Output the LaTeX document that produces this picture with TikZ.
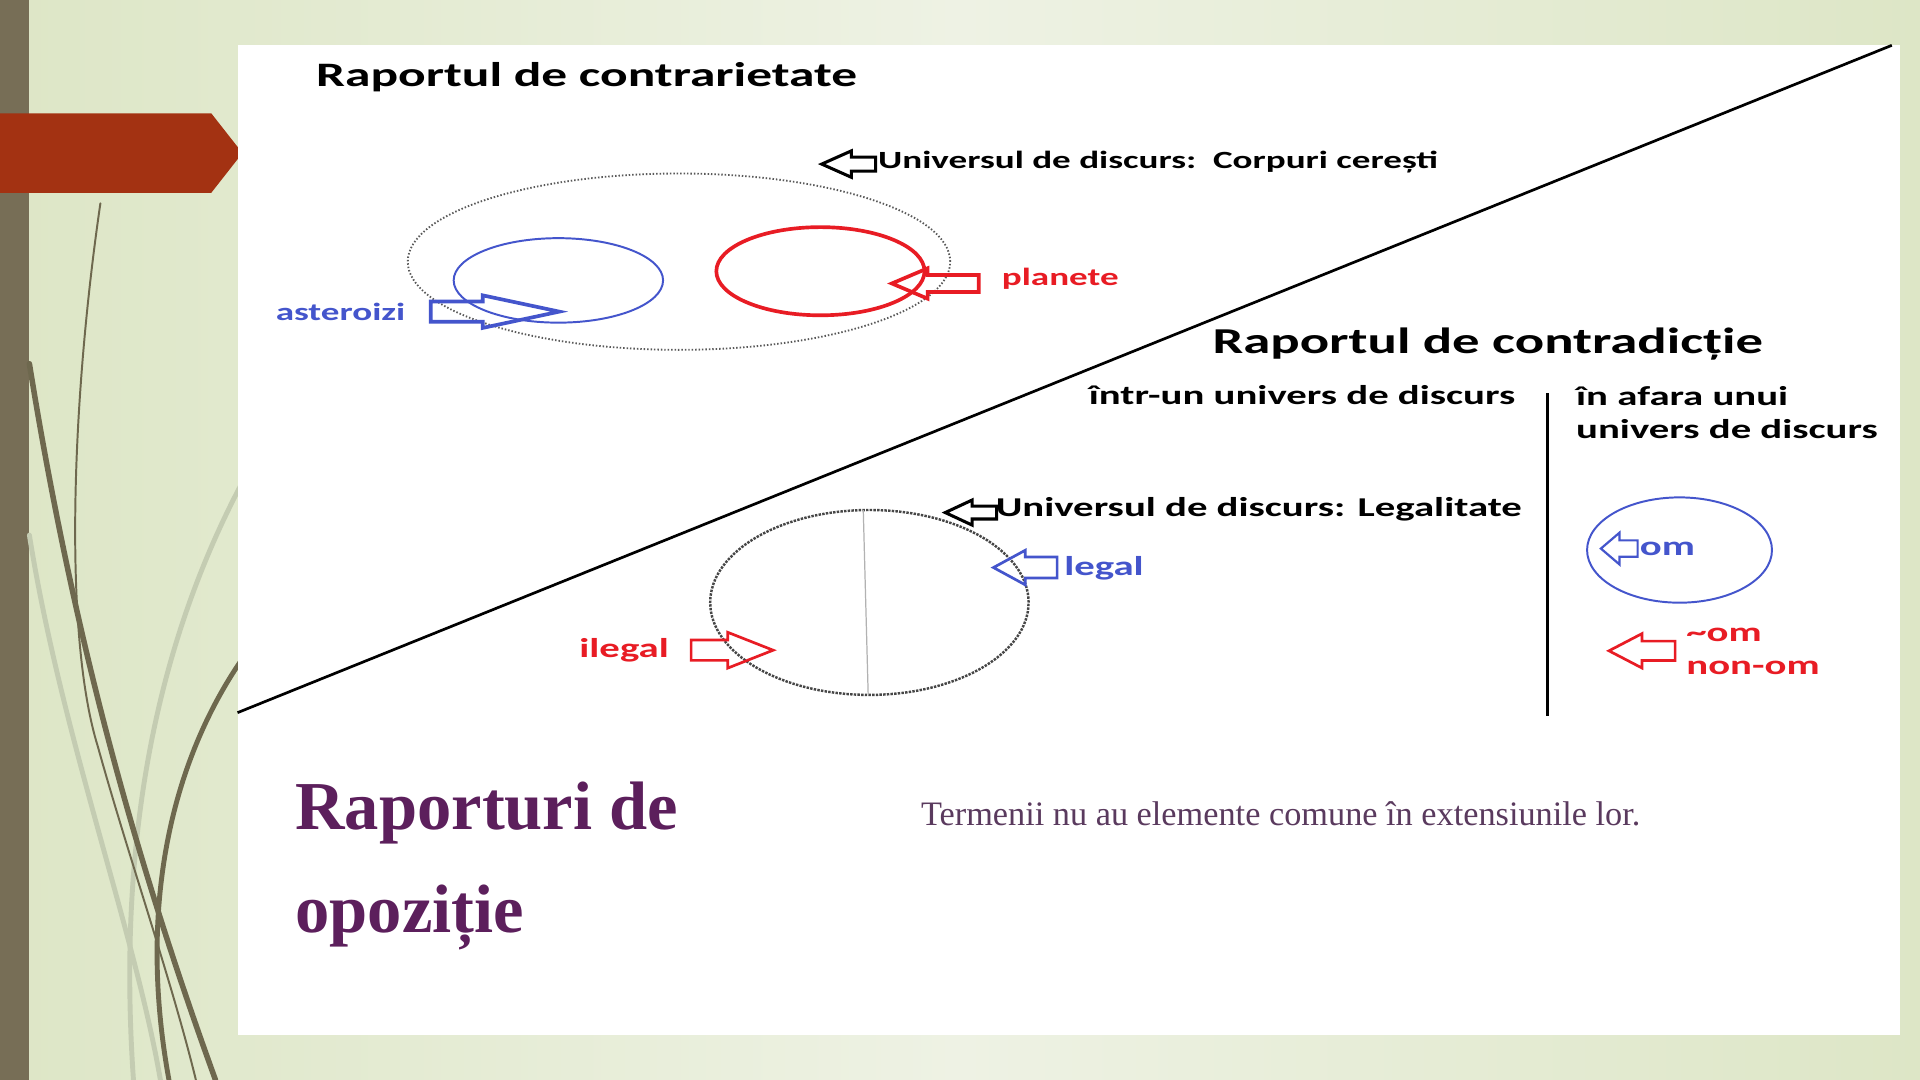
\documentclass[tikz,border=0pt]{standalone}
\usepackage{fontspec}
\usepackage{tikz}
\usetikzlibrary{shapes,shapes.arrows,shapes.geometric,positioning}
\newfontfamily\picfont{Carlito}[FakeStretch=1.5]
\newfontfamily\slidefont{Liberation Serif}
\newcommand\fsz[2]{\fontsize{#1}{#2}\selectfont}
\definecolor{stripcol}{RGB}{119,110,86}
\definecolor{tabred}{RGB}{163,50,18}
\definecolor{bgside}{RGB}{221,230,198}
\definecolor{bgmid}{RGB}{238,242,228}
\definecolor{lineolive}{RGB}{110,104,78}
\definecolor{linelight}{RGB}{196,204,178}
\definecolor{setblue}{RGB}{68,85,204}
\definecolor{setred}{RGB}{232,28,36}
\definecolor{titlepurple}{RGB}{92,31,92}
\definecolor{textpurple}{RGB}{90,58,94}
\tikzset{
  basic/.style   = {inner sep=0pt, anchor=west, font=\picfont\bfseries},
  heading/.style = {basic, font=\picfont\bfseries\fsz{28}{34}},
  small/.style   = {basic, font=\picfont\bfseries\fsz{20.2}{24}},
  mid/.style     = {basic, align=left, font=\picfont\bfseries\fsz{22.2}{27}},
  set/.style     = {draw, ellipse, inner sep=0pt},
  barrow/.style n args = {4}{draw, single arrow, inner sep=0pt, inner ysep=#1,
                    single arrow head extend=#2, minimum height=#3,
                    single arrow tip angle=#4, anchor=tip}
}

\begin{document}
\begin{tikzpicture}[x=1pt,y=-1pt]
  \useasboundingbox (0,0) rectangle (1568,882);
  \shade[left color=bgside, right color=bgside, middle color=bgmid] (0,0) rectangle (1568,882);
  \fill[stripcol] (0,0) rectangle (24,882);
  \begin{scope}[line cap=round]
    \draw[linelight, line width=4pt] (24,437) .. controls (50,600) and (110,760) .. (131,882);
    \draw[linelight, line width=4pt] (200,390) .. controls (130,520) and (95,680) .. (109,882);
    \draw[lineolive, line width=1.6pt] (82,166) .. controls (58,330) and (52,520) .. (80,610)
                                               .. controls (105,700) and (140,800) .. (160,882);
    \draw[lineolive, line width=4.5pt] (24,297) .. controls (60,520) and (110,700) .. (176,882);
    \draw[lineolive, line width=4pt] (200,535) .. controls (140,620) and (112,740) .. (138,882);
  \end{scope}
  \fill[tabred] (0,92.5) -- (172.5,92.5) -- (198,125) -- (172.5,157.5) -- (0,157.5) -- cycle;
  \fill[white] (194,37) rectangle (1552,845);

  \coordinate (diagA) at (194,582);
  \coordinate (diagB) at (1545,37);
  \draw[line width=2.2pt] (diagA) -- (diagB);

  \node[heading] (contrar) at (258,63) {Raportul de contrarietate};
  \node[set, gray!70!black, line width=1.5pt, dash pattern=on 1.2pt off 1.6pt,
        minimum width=443, minimum height=144] (corpuri) at (554.5,213.7) {};
  \node[set, setblue, line width=1.6pt, minimum width=171, minimum height=69] (aster) at (456,229) {};
  \node[set, setred, line width=3pt, minimum width=170, minimum height=72] (planet) at (670,221.5) {};
  \node[barrow={4.5pt}{5pt}{44}{48}, line width=2.5pt, shape border rotate=180] (univarr) at (668,134) {};
  \node[small] (univ) at (717,132) {Universul de discurs:\ \ Corpuri cerești};
  \node[barrow={6.8pt}{5pt}{105}{24}, setblue, line width=3pt] (asterarr) at (464,254.5) {};
  \node[small, text=setblue] (asterlbl) at (225,255) {asteroizi};
  \node[barrow={5.4pt}{5.5pt}{71}{46}, setred, line width=3pt, shape border rotate=180] (planetarr) at (724.5,231.5) {};
  \node[small, text=setred] (planetlbl) at (818,228) {planete};

  \node[heading, font=\picfont\bfseries\fsz{29.8}{34}] (contrad) at (990,281) {Raportul de contradicție};
  \node[mid] (intr) at (889,323) {într-un univers de discurs};
  \node[mid] (afara) at (1287,337) {în afara unui\\univers de discurs};
  \coordinate (sepA) at (1264,321);
  \coordinate (sepB) at (1264,585);
  \draw[line width=2.5pt] (sepA) -- (sepB);

  \node[set, gray!55!black, line width=2pt, densely dotted,
        minimum width=260, minimum height=151] (legcirc) at (710,492) {};
  \coordinate (halfA) at (705,416.5);
  \coordinate (halfB) at (709,567);
  \draw[gray!60, line width=1pt] (halfA) -- (halfB);
  \node[barrow={4pt}{5pt}{42}{50}, line width=2.5pt, shape border rotate=180] (univarr2) at (769,418.6) {};
  \node[mid] (univ2) at (813,416) {Universul de discurs: Legalitate};
  \node[barrow={7.5pt}{5.5pt}{52}{57}, setblue, line width=2.2pt, shape border rotate=180] (legarr) at (809,463.5) {};
  \node[mid, text=setblue] (leglbl) at (869,464) {legal};
  \node[barrow={7.2pt}{6.3pt}{67}{43}, setred, line width=2.2pt] (ilegarr) at (634.4,531) {};
  \node[mid, text=setred] (ileglbl) at (473,531) {ilegal};

  \node[set, setblue, line width=1.6pt, minimum width=151, minimum height=86] (omset) at (1371.6,449.2) {};
  \node[barrow={5.8pt}{6.2pt}{30}{81}, setblue, line width=1.8pt, shape border rotate=180] (omarr) at (1306,448) {};
  \node[mid, text=setblue] (omlbl) at (1339,448) {om};
  \node[barrow={6.8pt}{6.1pt}{54}{55}, setred, line width=2.2pt, shape border rotate=180] (nonomarr) at (1311.6,531.5) {};
  \node[mid, text=setred] (nonomlbl) at (1377,532) {\textasciitilde om\\non-om};

  \node[basic, align=left, text=titlepurple, font=\slidefont\bfseries\fsz{56}{84}] (slidetitle) at (241,707) {Raporturi de\\opoziție};
  \node[basic, text=textpurple, font=\slidefont\fsz{28}{32}] (termeni) at (752,665) {Termenii nu au elemente comune în extensiunile lor.};
\end{tikzpicture}
\end{document}
